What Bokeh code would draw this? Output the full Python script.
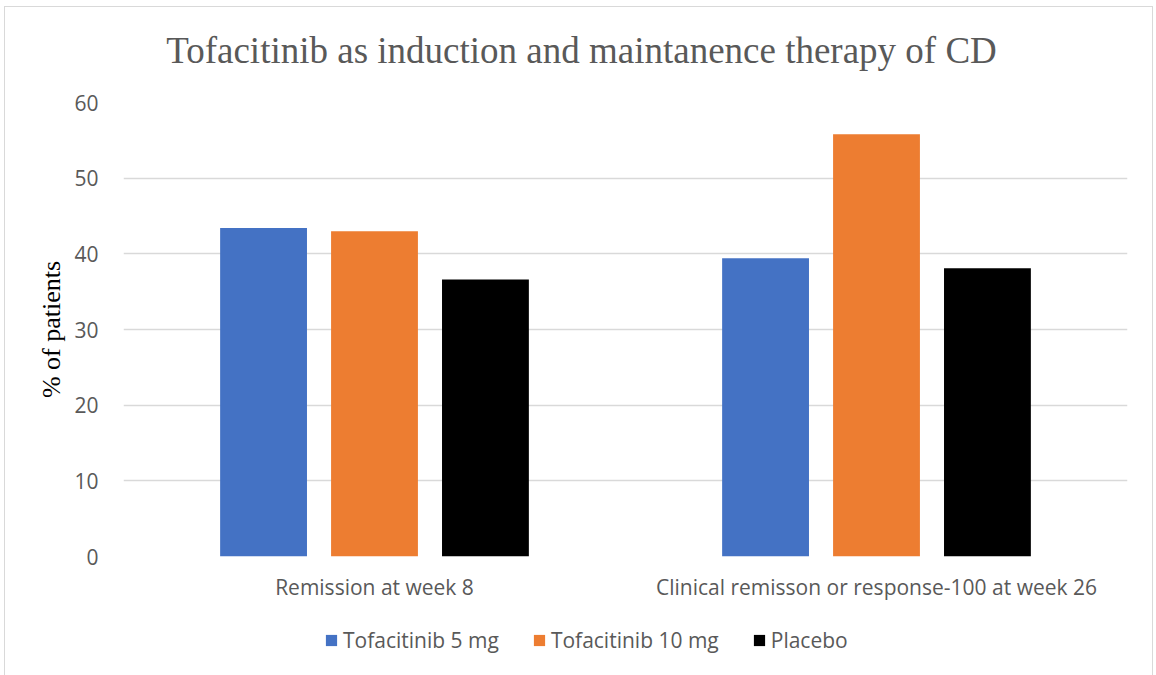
from bokeh.plotting import figure
from bokeh.models import Range1d, Legend, LegendItem, SingleIntervalTicker, Label
from bokeh.layouts import column
from bokeh.transform import dodge
from bokeh.embed import file_html
from bokeh.resources import INLINE

categories = ["Remission at week 8", "Clinical remisson or response-100 at week 26"]
series_names = ["Tofacitinib 5 mg", "Tofacitinib 10 mg", "Placebo"]
tofa5 = [43.4, 39.4]
tofa10 = [43.0, 55.8]
placebo = [36.6, 38.1]
colors = ["#4472C4", "#ED7D31", "#000000"]
title_text = "Tofacitinib as induction and maintanence therapy of CD"
y_label = "% of patients"

SANS = "Open Sans"
SERIF = "Liberation Serif"
# chart area sits inside a thin grey frame (border at x=4, y=6 of the window)
W, TOP_H, MAIN_H, LEG_H = 1147, 73, 540, 55
FRAME_W = W - 118 - 25


def strip(height):
    f = figure(width=W, height=height, x_range=Range1d(0, FRAME_W), y_range=Range1d(0, height),
               x_axis_location=None, y_axis_location=None,
               output_backend="svg", toolbar_location=None, min_border=0)
    f.outline_line_color = None
    f.grid.visible = False
    f.background_fill_color = "white"
    f.border_fill_color = "white"
    return f


# title strip
t = strip(TOP_H)
t.add_layout(Label(x=458, y=30, text=title_text, text_align="center", text_baseline="alphabetic",
                   text_font=SERIF, text_font_size="37px", text_color="#595959"))

# main chart
p = figure(width=W, height=MAIN_H, x_range=categories, y_range=Range1d(0, 60),
           output_backend="svg", toolbar_location=None,
           min_border_left=118, min_border_right=25, min_border_top=22, min_border_bottom=64)
p.outline_line_color = None
p.background_fill_color = "white"
p.border_fill_color = "white"

data = dict(cat=categories, a=tofa5, b=tofa10, c=placebo)
offsets = [-0.221, 0.0, 0.221]
for key, off, col in zip(["a", "b", "c"], offsets, colors):
    p.vbar(x=dodge("cat", off, range=p.x_range), top=key, width=0.173, source=data,
           fill_color=col, line_color=None)

p.xgrid.grid_line_color = None
p.ygrid.grid_line_color = "#d9d9d9"
p.ygrid.grid_line_width = 1.3
p.yaxis.ticker = SingleIntervalTicker(interval=10)

ya = p.yaxis[0]
ya.axis_line_color = None
ya.major_tick_line_color = None
ya.minor_tick_line_color = None
ya.major_label_text_font = SANS
ya.major_label_text_font_size = "21px"
ya.major_label_text_color = "#595959"
ya.major_label_standoff = 19
ya.axis_label = y_label
ya.axis_label_text_font = SERIF
ya.axis_label_text_font_size = "26px"
ya.axis_label_text_font_style = "normal"
ya.axis_label_text_color = "#000000"
ya.axis_label_standoff = 5

xa = p.xaxis[0]
xa.axis_line_color = None
xa.major_tick_line_color = None
xa.minor_tick_line_color = None
xa.major_label_text_font = SANS
xa.major_label_text_font_size = "21px"
xa.major_label_text_color = "#595959"
xa.major_label_standoff = 10

# legend strip; proxy glyphs sit outside the strip's visible range
q = strip(LEG_H)
leg_renderers = [q.vbar(x=[-100], top=[-100], width=1, fill_color=col, line_color=None) for col in colors]
legend = Legend(items=[LegendItem(label=n, renderers=[r]) for n, r in zip(series_names, leg_renderers)],
                orientation="horizontal", location=(201, 21),
                glyph_width=14, glyph_height=14, label_standoff=5, spacing=33,
                padding=0, margin=0, border_line_color=None, background_fill_alpha=0,
                label_text_font=SANS, label_text_font_size="21px", label_text_color="#595959")
q.add_layout(legend, "center")

layout = column(t, p, q, spacing=0)
layout.styles = {"border": "1px solid #d9d9d9", "margin-left": "4px", "margin-top": "6px"}

open("out.html", "w").write(file_html(layout, INLINE))
